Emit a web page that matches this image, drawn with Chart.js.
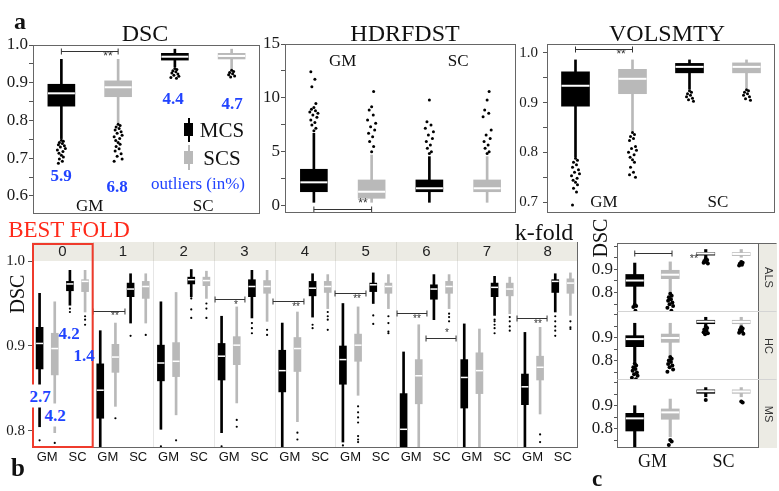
<!DOCTYPE html>
<html>
<head>
<meta charset="utf-8">
<script src="https://cdn.jsdelivr.net/npm/chart.js@4.4.0/dist/chart.umd.min.js"></script>
<style>
  body { margin: 0; background: #fff; }
  #page { position: relative; width: 779px; height: 491px; overflow: hidden; font-family: 'Liberation Serif', serif; }
  #page canvas { position: absolute; }
  .t { position: absolute; white-space: nowrap; line-height: 1; }
  .blk { position: absolute; }
</style>
</head>
<body>
<div id="page"></div>
<script>
// ---- data ----
const groups = ['GM', 'SC'];
const methods = ['MCS', 'SCS'];
const boxColors = ['#000000', '#b9b9b9'];

// each box: [lower whisker, Q1, median, Q3, upper whisker]
// order: GM-MCS, GM-SCS, SC-MCS, SC-SCS
const dscBoxes = [
  [0.752, 0.838, 0.872, 0.896, 0.962],
  [0.794, 0.863, 0.888, 0.905, 0.962],
  [0.942, 0.960, 0.969, 0.978, 0.989],
  [0.936, 0.963, 0.971, 0.978, 0.989]
];
const dscOutliers = [
  [0.748, 0.745, 0.742, 0.739, 0.736, 0.733, 0.730, 0.726, 0.722, 0.718, 0.713, 0.708, 0.703, 0.698, 0.692, 0.687],
  [0.790, 0.787, 0.783, 0.779, 0.775, 0.770, 0.766, 0.761, 0.757, 0.752, 0.747, 0.742, 0.737, 0.731, 0.725, 0.719, 0.712, 0.705, 0.698, 0.692],
  [0.938, 0.935, 0.932, 0.929, 0.926, 0.923, 0.920, 0.917, 0.914, 0.912],
  [0.933, 0.930, 0.927, 0.924, 0.921, 0.918, 0.915]
];
const dscOutlierPct = ['5.9', '6.8', '4.4', '4.7'];
const dscTicks = [0.6, 0.7, 0.8, 0.9, 1.0];

const hdBoxes = [
  [0.34, 1.32, 2.19, 3.40, 6.73],
  [0.34, 0.71, 1.32, 2.41, 4.72],
  [0.34, 1.32, 1.64, 2.41, 4.57],
  [0.34, 1.32, 1.64, 2.41, 4.57]
];
const hdOutliers = [
  [6.97, 7.19, 7.5, 7.72, 7.96, 8.21, 8.43, 8.58, 8.7, 8.83, 8.95, 9.13, 9.5, 11.05, 11.73, 12.44],
  [5.03, 5.5, 5.96, 6.42, 6.73, 7.04, 7.34, 7.65, 7.96, 8.43, 8.89, 9.19, 10.59],
  [4.85, 5.03, 5.34, 5.65, 5.96, 6.26, 6.57, 6.88, 7.19, 7.5, 7.8, 9.81],
  [4.85, 5.03, 5.34, 5.65, 5.96, 6.26, 6.57, 7.04, 8.27, 8.58, 8.89, 9.81, 10.59]
];
const hdTicks = [0, 5, 10, 15];

const volBoxes = [
  [0.791, 0.893, 0.934, 0.962, 0.986],
  [0.842, 0.918, 0.948, 0.967, 0.986],
  [0.927, 0.960, 0.972, 0.979, 0.986],
  [0.929, 0.960, 0.972, 0.980, 0.986]
];
const volOutliers = [
  [0.788, 0.784, 0.780, 0.775, 0.770, 0.765, 0.760, 0.757, 0.753, 0.748, 0.744, 0.740, 0.735, 0.728, 0.720, 0.694],
  [0.840, 0.836, 0.832, 0.828, 0.824, 0.812, 0.808, 0.804, 0.800, 0.795, 0.790, 0.785, 0.780, 0.770, 0.760, 0.755, 0.750],
  [0.924, 0.921, 0.918, 0.915, 0.912, 0.909, 0.906, 0.903],
  [0.926, 0.924, 0.921, 0.918, 0.915, 0.912, 0.908, 0.905]
];
const volTicks = [0.7, 0.8, 0.9, 1.0];

const folds = ['0', '1', '2', '3', '4', '5', '6', '7', '8'];
const foldBoxes = [
  [[0.805, 0.873, 0.903, 0.922, 0.962], [0.798, 0.866, 0.897, 0.915, 0.952], [0.948, 0.965, 0.973, 0.976, 0.989], [0.940, 0.964, 0.976, 0.978, 0.989]],
  [[0.770, 0.815, 0.848, 0.879, 0.918], [0.829, 0.869, 0.887, 0.902, 0.927], [0.927, 0.958, 0.967, 0.974, 0.985], [0.927, 0.956, 0.970, 0.976, 0.985]],
  [[0.802, 0.859, 0.880, 0.901, 0.952], [0.819, 0.864, 0.882, 0.904, 0.963], [0.958, 0.973, 0.978, 0.981, 0.990], [0.956, 0.971, 0.977, 0.981, 0.988]],
  [[0.798, 0.860, 0.888, 0.903, 0.935], [0.833, 0.878, 0.901, 0.911, 0.946], [0.933, 0.958, 0.970, 0.978, 0.989], [0.929, 0.962, 0.970, 0.977, 0.989]],
  [[0.770, 0.846, 0.871, 0.895, 0.927], [0.811, 0.870, 0.897, 0.910, 0.940], [0.934, 0.959, 0.968, 0.976, 0.985], [0.944, 0.963, 0.970, 0.976, 0.984]],
  [[0.787, 0.855, 0.884, 0.900, 0.950], [0.842, 0.882, 0.901, 0.914, 0.946], [0.950, 0.964, 0.972, 0.974, 0.986], [0.944, 0.962, 0.970, 0.974, 0.984]],
  [[0.770, 0.770, 0.802, 0.844, 0.893], [0.770, 0.832, 0.865, 0.884, 0.925], [0.931, 0.955, 0.967, 0.972, 0.984], [0.944, 0.962, 0.970, 0.976, 0.984]],
  [[0.770, 0.827, 0.863, 0.884, 0.926], [0.770, 0.844, 0.871, 0.892, 0.920], [0.936, 0.958, 0.969, 0.974, 0.982], [0.938, 0.959, 0.967, 0.974, 0.981]],
  [[0.770, 0.831, 0.852, 0.867, 0.916], [0.820, 0.860, 0.875, 0.888, 0.922], [0.940, 0.963, 0.976, 0.978, 0.985], [0.936, 0.962, 0.974, 0.979, 0.986]]
];
const foldOutliers = [
  [[0.789], [0.786], [0.944, 0.940], [0.935, 0.931, 0.925]],
  [[], [0.815], [0.912], [0.913]],
  [[0.782], [0.789], [0.956, 0.943, 0.933], [0.950, 0.944, 0.933]],
  [[0.782], [0.813, 0.805], [0.927, 0.921, 0.915], [0.919, 0.913]],
  [[], [0.798, 0.790], [0.925, 0.921], [0.940, 0.935, 0.931, 0.919]],
  [[0.783], [0.829, 0.822, 0.816, 0.810, 0.794, 0.790, 0.787], [0.936, 0.926], [0.935, 0.927, 0.917, 0.915]],
  [[], [], [], [0.938, 0.934, 0.929]],
  [[], [], [0.931, 0.929, 0.925, 0.921, 0.915], [0.934, 0.929, 0.923, 0.918]],
  [[], [0.796, 0.787], [0.935, 0.929, 0.923, 0.918, 0.912], [0.929, 0.922, 0.920]]
];
const bestFoldPct = ['2.7', '4.2', '4.2', '1.4'];
const foldTicks = [0.8, 0.9, 1.0];

const cohorts = ['ALS', 'HC', 'MS'];
const cohortBoxes = [
  [[0.751, 0.827, 0.852, 0.878, 0.927], [0.801, 0.860, 0.877, 0.896, 0.932], [0.949, 0.961, 0.968, 0.972, 0.985], [0.952, 0.959, 0.966, 0.972, 0.985]],
  [[0.797, 0.862, 0.895, 0.910, 0.964], [0.826, 0.881, 0.900, 0.917, 0.964], [0.952, 0.962, 0.971, 0.977, 0.990], [0.952, 0.962, 0.970, 0.977, 0.990]],
  [[0.700, 0.791, 0.846, 0.868, 0.901], [0.766, 0.842, 0.872, 0.887, 0.930], [0.940, 0.955, 0.964, 0.970, 0.980], [0.940, 0.955, 0.963, 0.970, 0.980]]
];
const cohortOutliers = [
  [[0.748, 0.743, 0.738, 0.722], [0.795, 0.787, 0.780, 0.772, 0.765, 0.758, 0.750, 0.743, 0.735, 0.722], [0.945, 0.940, 0.936, 0.932, 0.928, 0.925], [0.932, 0.928, 0.924, 0.920, 0.917]],
  [[0.789, 0.780, 0.772, 0.765, 0.757, 0.750, 0.742, 0.735, 0.727, 0.720], [0.817, 0.810, 0.802, 0.795, 0.787, 0.780, 0.772, 0.763, 0.753], [0.949, 0.943, 0.937, 0.931, 0.925, 0.920, 0.916], [0.947, 0.941, 0.935, 0.929, 0.923, 0.918]],
  [[], [0.752, 0.745, 0.730], [0.926], [0.919, 0.915]]
];
const cohortTicks = [0.8, 0.9];

// ---- drawing helpers ----
const page = document.getElementById('page');
const SERIF = "'Liberation Serif', 'Times New Roman', serif";
const SANS = "'Liberation Sans', Arial, sans-serif";
const BLUE = '#2143ff';
const jit = [0, 0.5, -0.5, 0.25, -0.75, 0.75, -0.25, 1, -1, 0.4, -0.6];

function label(str, x, y, css, rot) {
  const d = document.createElement('div');
  d.className = 't';
  d.textContent = str;
  d.style.cssText = 'left:' + x + 'px;top:' + y + 'px;' + css;
  d.style.transform = 'translate(-50%,-50%)' + (rot ? ' rotate(' + rot + 'deg)' : '');
  page.appendChild(d);
}

function block(x, y, w, h, color) {
  const d = document.createElement('div');
  d.className = 'blk';
  d.style.cssText = 'left:' + x + 'px;top:' + y + 'px;width:' + w + 'px;height:' + h + 'px;background:' + color;
  page.appendChild(d);
}

function boxChart(o) {
  const n = o.boxes.length;
  const pad = o.pad;
  const cv = document.createElement('canvas');
  const w = o.axisW + o.area.w + pad.r, h = pad.t + o.area.h + pad.b;
  cv.width = w; cv.height = h;
  cv.style.left = (o.area.x - o.axisW) + 'px';
  cv.style.top = (o.area.y - pad.t) + 'px';
  cv.style.width = w + 'px';
  cv.style.height = h + 'px';
  page.appendChild(cv);

  const colors = o.boxes.map((b, i) => boxColors[i % 2]);
  const dots = [];
  o.outliers.forEach((list, i) => list.forEach((v, k) => {
    dots.push({ x: i + o.jitter * jit[k % jit.length], y: v });
  }));

  const extras = {
    id: 'extras',
    beforeDatasetsDraw(chart) { if (o.under) o.under(chart); },
    afterDatasetsDraw(chart) {
      const ctx = chart.ctx, xs = chart.scales.x, x2 = chart.scales.x2, ys = chart.scales.y;
      const a = chart.chartArea;
      ctx.save();
      // medians
      ctx.fillStyle = '#ffffff';
      o.boxes.forEach((b, i) => {
        const px = xs.getPixelForValue(i), py = ys.getPixelForValue(b[2]);
        ctx.fillRect(px - o.boxW / 2, py - o.medW / 2, o.boxW, o.medW);
      });
      // significance brackets
      (o.brackets || []).forEach(br => {
        const xa = x2.getPixelForValue(br.from), xb = x2.getPixelForValue(br.to);
        const py = Math.round(ys.getPixelForValue(br.y)) + 0.5;
        ctx.strokeStyle = '#333';
        ctx.lineWidth = 1;
        ctx.beginPath();
        ctx.moveTo(xa, py); ctx.lineTo(xb, py);
        ctx.moveTo(xa, py - 3); ctx.lineTo(xa, py + 3);
        ctx.moveTo(xb, py - 3); ctx.lineTo(xb, py + 3);
        ctx.stroke();
        ctx.fillStyle = '#333';
        ctx.font = o.starFont;
        ctx.textAlign = 'center';
        ctx.textBaseline = 'middle';
        ctx.fillText(br.text, x2.getPixelForValue(br.tx), ys.getPixelForValue(br.ty));
      });
      // group labels
      if (o.groupDy != null) {
        ctx.fillStyle = '#111';
        ctx.font = o.groupFont;
        ctx.textAlign = 'center';
        ctx.textBaseline = 'middle';
        for (let g = 0; g < n / 2; g++) {
          const cx = (xs.getPixelForValue(2 * g) + xs.getPixelForValue(2 * g + 1)) / 2;
          ctx.fillText(groups[g % 2], cx, a.top + o.groupDy);
        }
      }
      if (o.over) o.over(chart);
      ctx.restore();
    }
  };

  return new Chart(cv, {
    type: 'bar',
    data: {
      labels: o.boxes.map((b, i) => String(i)),
      datasets: [
        { data: o.boxes.map(b => [b[0], b[4]]), backgroundColor: colors, barThickness: o.whisker, grouped: false, borderWidth: 0, clip: 0, order: 3 },
        { data: o.boxes.map(b => [b[1], b[3]]), backgroundColor: colors, barThickness: o.boxW, grouped: false, borderWidth: 0, clip: 0, order: 2 },
        { type: 'scatter', xAxisID: 'x2', data: dots, pointRadius: o.dot, pointBackgroundColor: '#000', pointBorderWidth: 0, clip: 0, order: 1 }
      ]
    },
    options: {
      responsive: false,
      animation: false,
      events: [],
      layout: { padding: { top: pad.t, right: pad.r, bottom: pad.b, left: 0 } },
      plugins: { legend: { display: false }, tooltip: { enabled: false } },
      scales: {
        x: { display: false, offset: true },
        x2: { type: 'linear', display: false, offset: false, min: -0.5, max: n - 0.5 },
        y: {
          min: o.min, max: o.max,
          afterFit(s) { s.width = o.axisW; },
          border: { display: false },
          grid: { drawOnChartArea: false, tickLength: o.tickLen, tickColor: '#555' },
          ticks: {
            stepSize: o.step, includeBounds: false, autoSkip: false,
            padding: o.tickPad, color: '#1a1a1a',
            font: { family: SERIF, size: o.tickSize },
            callback: v => o.ticks.some(t => Math.abs(t - v) < 1e-6) ? o.fmt(v) : ''
          }
        }
      }
    },
    plugins: [extras]
  });
}

function frame(chart) {
  const ctx = chart.ctx, a = chart.chartArea;
  ctx.strokeStyle = '#666';
  ctx.lineWidth = 1;
  ctx.strokeRect(Math.round(a.left) + 0.5, Math.round(a.top) + 0.5, Math.round(a.right - a.left) - 1, Math.round(a.bottom - a.top) - 1);
}

// ---- panel a ----
const padA = { t: 14, r: 4, b: 14 };
boxChart({
  area: { x: 33, y: 45, w: 227, h: 169 }, axisW: 33, pad: padA,
  boxes: dscBoxes, outliers: dscOutliers, min: 0.5523, max: 1.0, step: 0.05,
  ticks: dscTicks, fmt: v => v.toFixed(1), tickSize: 17, tickLen: 4, tickPad: 1,
  boxW: 27, whisker: 2, medW: 2, dot: 1.5, jitter: 0.07,
  groupDy: 162, groupFont: '17px ' + SERIF, starFont: '12px ' + SANS,
  brackets: [{ from: 0, to: 1, y: 0.985, text: '**', tx: 0.82, ty: 0.968 }],
  over: frame
});
boxChart({
  area: { x: 285, y: 44, w: 231, h: 169 }, axisW: 30, pad: padA,
  boxes: hdBoxes, outliers: hdOutliers, min: -0.65, max: 15, step: 2.5,
  ticks: hdTicks, fmt: v => String(v), tickSize: 17, tickLen: 4, tickPad: 1,
  boxW: 27, whisker: 2, medW: 2, dot: 1.5, jitter: 0.07,
  groupDy: 18, groupFont: '17px ' + SERIF, starFont: '12px ' + SANS,
  brackets: [{ from: 0, to: 1, y: -0.31, text: '**', tx: 0.85, ty: 0.2 }],
  over: frame
});
boxChart({
  area: { x: 547, y: 44, w: 230, h: 169 }, axisW: 36, pad: { t: 14, r: 2, b: 14 },
  boxes: volBoxes, outliers: volOutliers, min: 0.678, max: 1.018, step: 0.05,
  ticks: volTicks, fmt: v => v.toFixed(1), tickSize: 15, tickLen: 4, tickPad: 5,
  boxW: 28, whisker: 2, medW: 2, dot: 1.5, jitter: 0.07,
  groupDy: 159, groupFont: '17px ' + SERIF, starFont: '12px ' + SANS,
  brackets: [{ from: 0, to: 1, y: 1.0074, text: '**', tx: 0.8, ty: 0.996 }],
  over: frame
});

// ---- panel b ----
boxChart({
  area: { x: 32, y: 261, w: 546, h: 187 }, axisW: 32, pad: { t: 22, r: 4, b: 22 },
  boxes: foldBoxes.flat(), outliers: foldOutliers.flat(), min: 0.78, max: 1.0, step: 0.1,
  ticks: foldTicks, fmt: v => v.toFixed(1), tickSize: 15, tickLen: 4, tickPad: 3,
  boxW: 7, whisker: 2, medW: 1.5, dot: 1.1, jitter: 0,
  groupDy: 196, groupFont: '13px ' + SANS, starFont: '10px ' + SANS,
  brackets: [
    { from: 3.52, to: 5.63, y: 0.9415, text: '**', tx: 4.97, ty: 0.935 },
    { from: 11.57, to: 13.54, y: 0.955, text: '*', tx: 12.95, ty: 0.948 },
    { from: 15.39, to: 17.43, y: 0.953, text: '**', tx: 16.91, ty: 0.946 },
    { from: 19.48, to: 21.52, y: 0.962, text: '**', tx: 20.93, ty: 0.955 },
    { from: 23.57, to: 25.54, y: 0.939, text: '**', tx: 24.88, ty: 0.932 },
    { from: 25.48, to: 27.46, y: 0.909, text: '*', tx: 26.86, ty: 0.915 },
    { from: 31.48, to: 33.46, y: 0.933, text: '**', tx: 32.86, ty: 0.926 }
  ],
  under(chart) {
    const ctx = chart.ctx, a = chart.chartArea;
    const fw = (a.right - a.left) / folds.length;
    ctx.save();
    ctx.fillStyle = '#ecebe4';
    ctx.fillRect(a.left, a.top - 19, a.right - a.left, 19);
    ctx.lineWidth = 1;
    for (let f = 1; f < folds.length; f++) {
      const x = Math.round(a.left + f * fw) + 0.5;
      ctx.strokeStyle = '#d8d7cf';
      ctx.beginPath(); ctx.moveTo(x, a.top - 19); ctx.lineTo(x, a.top); ctx.stroke();
      ctx.strokeStyle = '#e6e6e6';
      ctx.beginPath(); ctx.moveTo(x, a.top); ctx.lineTo(x, a.bottom); ctx.stroke();
    }
    ctx.fillStyle = '#222';
    ctx.font = '15px ' + SANS;
    ctx.textAlign = 'center';
    ctx.textBaseline = 'middle';
    folds.forEach((f, i) => ctx.fillText(f, a.left + (i + 0.5) * fw, a.top - 9));
    ctx.restore();
  },
  over(chart) {
    const ctx = chart.ctx, a = chart.chartArea;
    const fw = (a.right - a.left) / folds.length;
    ctx.strokeStyle = '#666';
    ctx.lineWidth = 1;
    ctx.beginPath();
    ctx.moveTo(a.left, Math.round(a.bottom) - 0.5); ctx.lineTo(a.right, Math.round(a.bottom) - 0.5);
    ctx.moveTo(Math.round(a.right) - 0.5, a.top - 19); ctx.lineTo(Math.round(a.right) - 0.5, a.bottom);
    ctx.stroke();
    ctx.strokeStyle = '#ef3b2c';
    ctx.lineWidth = 2;
    ctx.strokeRect(a.left + 1, a.top - 17, fw - 1, a.bottom - a.top + 16);
  }
});

// ---- panel c ----
const rowTops = [243, 312, 380];
const rowHeights = [69, 68, 68];
cohorts.forEach((name, r) => {
  const last = r === cohorts.length - 1;
  boxChart({
    area: { x: 617, y: rowTops[r], w: 142, h: rowHeights[r] }, axisW: 30, pad: { t: 12, r: 22, b: last ? 26 : 12 },
    boxes: cohortBoxes[r], outliers: cohortOutliers[r], min: 0.717, max: 1.013, step: 0.05,
    ticks: cohortTicks, fmt: v => v.toFixed(1), tickSize: 17, tickLen: 3, tickPad: 1,
    boxW: 18, whisker: 2.5, medW: 2, dot: 2, jitter: 0.08,
    groupDy: last ? 82 : null, groupFont: '18px ' + SERIF, starFont: '11px ' + SANS,
    brackets: r === 0 ? [{ from: 0, to: 1.05, y: 0.971, text: '**', tx: 1.67, ty: 0.943 }] : [],
    over(chart) {
      const ctx = chart.ctx, a = chart.chartArea;
      const L = Math.round(a.left) + 0.5, R = Math.round(a.right) - 0.5;
      const T = Math.round(a.top) + 0.5, B = Math.round(a.bottom) - 0.5;
      ctx.fillStyle = '#ecebe4';
      ctx.fillRect(R + 0.5, a.top, 18, a.bottom - a.top);
      ctx.save();
      ctx.translate(R + 9.5, (a.top + a.bottom) / 2);
      ctx.rotate(Math.PI / 2);
      ctx.fillStyle = '#333';
      ctx.font = '11px ' + SANS;
      ctx.textAlign = 'center';
      ctx.textBaseline = 'middle';
      ctx.fillText(name, 0, 0);
      ctx.restore();
      ctx.lineWidth = 1;
      ctx.strokeStyle = '#666';
      ctx.beginPath();
      ctx.moveTo(L, a.top); ctx.lineTo(L, a.bottom);
      ctx.moveTo(R, a.top); ctx.lineTo(R, a.bottom);
      if (r === 0) { ctx.moveTo(L, T); ctx.lineTo(R + 18, T); }
      if (last) { ctx.moveTo(L, B); ctx.lineTo(R, B); }
      ctx.stroke();
      if (!last) {
        ctx.strokeStyle = '#d4d4d4';
        ctx.beginPath(); ctx.moveTo(L, B); ctx.lineTo(R + 18, B); ctx.stroke();
      }
    }
  });
});

// ---- text ----
const serif = s => 'font-family:' + SERIF + ';font-size:' + s + 'px;color:#111;';
const blueBold = 'font-family:' + SERIF + ';font-size:17px;font-weight:bold;color:' + BLUE + ';';

label('a', 20, 21, serif(24) + 'font-weight:bold;');
label('DSC', 145, 33, serif(24));
label('HDRFDST', 405, 33, serif(24));
label('VOLSMTY', 667, 33, serif(24));

label(dscOutlierPct[0], 61, 175, blueBold);
label(dscOutlierPct[1], 117, 186, blueBold);
label(dscOutlierPct[2], 173, 98, blueBold);
label(dscOutlierPct[3], 232, 103, blueBold);
label('outliers (in%)', 198, 183, 'font-family:' + SERIF + ';font-size:17px;color:' + BLUE + ';');

// legend
block(187.5, 118, 2, 24, boxColors[0]);
block(184, 123, 9, 13, boxColors[0]);
block(187.5, 145, 2, 25, boxColors[1]);
block(184, 151, 9, 13, boxColors[1]);
label(methods[0], 222, 130, serif(21));
label(methods[1], 222, 158, serif(21));

label('BEST FOLD', 69, 229, 'font-family:' + SERIF + ';font-size:23px;color:#ff2a1a;');
label('k-fold', 544, 232, serif(24));
label('DSC', 17, 294, serif(20), -90);
label('b', 18, 467, serif(25) + 'font-weight:bold;');

label(bestFoldPct[2], 69, 333, blueBold);
label(bestFoldPct[3], 84, 355, blueBold);
label(bestFoldPct[0], 40, 396, blueBold + 'background:#fff;padding:3px 1px;');
label(bestFoldPct[1], 55, 415, blueBold + 'background:#fff;padding:3px 1px;');

label('DSC', 600, 238, serif(20), -90);
label('c', 597, 478, serif(23) + 'font-weight:bold;');
</script>
</body>
</html>
